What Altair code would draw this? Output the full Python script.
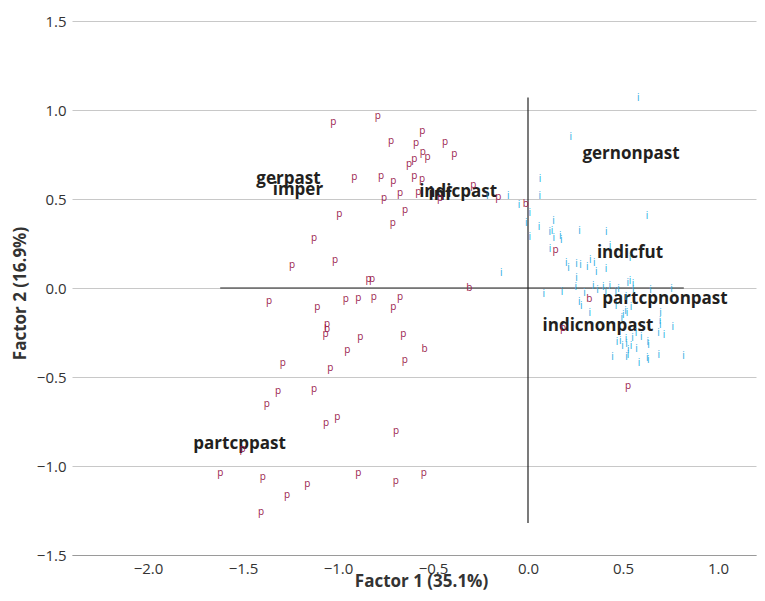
import altair as alt
import pandas as pd

# ---- data (Factor 1, Factor 2 coordinates) ----
p_x = [-1.025, -0.791, -0.556, -0.721, -0.589, -0.437, -0.554, -0.528, -0.388, -0.598,
       -0.626, -0.914, -0.774, -0.709, -0.598, -0.558, -0.674, -0.758, -0.577, -0.463,
       -0.288, -0.156, -0.993, -0.647, -0.712, -1.126, -1.242, -1.016, -0.839, -0.821,
       -1.363, -1.109, -0.959, -0.893, -0.812, -0.674, -0.709, 0.145, -1.058, -1.065,
       -0.883, -0.656, -0.951, -1.291, -1.041, -0.649, -1.316, -1.126, -1.375, -1.063,
       -1.004, -0.695, -1.502, -1.619, -1.396, -1.162, -1.268, -1.405, -0.893, -0.696,
       -0.549, 0.526, 0.184]
p_y = [0.931, 0.968, 0.882, 0.828, 0.813, 0.822, 0.762, 0.734, 0.751, 0.723,
       0.695, 0.622, 0.631, 0.601, 0.631, 0.611, 0.535, 0.504, 0.541, 0.504,
       0.579, 0.513, 0.417, 0.438, 0.367, 0.283, 0.131, 0.157, 0.051, 0.051,
       -0.075, -0.107, -0.062, -0.054, -0.051, -0.051, -0.108, 0.213, -0.202, -0.260,
       -0.274, -0.260, -0.348, -0.420, -0.451, -0.404, -0.577, -0.567, -0.652, -0.757,
       -0.723, -0.803, -0.904, -1.041, -1.063, -1.101, -1.163, -1.260, -1.038, -1.084,
       -1.041, -0.551, -0.223]

i_x = [0.581, 0.225, 0.063, 0.062, -0.104, -0.214, -0.047, 0.009, 0.626, -0.009,
       0.058, 0.134, 0.126, 0.114, 0.271, 0.412, 0.009, 0.135, 0.170, 0.175,
       0.116, 0.432, 0.537, 0.202, 0.213, 0.255, 0.277, 0.312, 0.328, 0.349,
       0.359, 0.411, -0.141, 0.256, 0.251, 0.344, 0.366, 0.396, 0.430, 0.477,
       0.525, 0.537, 0.553, 0.645, 0.755, 0.083, 0.179, 0.297, 0.270, 0.280,
       0.325, 0.409, 0.462, 0.463, 0.516, 0.542, 0.513, 0.521, 0.493, 0.697,
       0.695, 0.696, 0.762, 0.687, 0.716, 0.568, 0.596, 0.550, 0.468, 0.486,
       0.498, 0.516, 0.519, 0.542, 0.571, 0.630, 0.634, 0.528, 0.445, 0.518,
       0.526, 0.584, 0.628, 0.633, 0.688, 0.819, 0.554, 0.502]
i_y = [1.066, 0.850, 0.611, 0.517, 0.517, 0.517, 0.466, 0.420, 0.404, 0.363,
       0.343, 0.374, 0.323, 0.317, 0.323, 0.313, 0.288, 0.279, 0.292, 0.267,
       0.217, 0.238, 0.166, 0.140, 0.111, 0.133, 0.129, 0.116, 0.157, 0.139,
       0.090, 0.108, 0.083, 0.054, 0.008, 0.014, -0.014, 0.004, 0.011, -0.007,
       0.028, 0.038, 0.020, -0.011, -0.004, -0.035, -0.020, -0.030, -0.077, -0.103,
       -0.139, -0.024, -0.024, -0.101, -0.049, -0.108, -0.129, -0.140, -0.169, -0.138,
       -0.188, -0.208, -0.219, -0.254, -0.266, -0.254, -0.275, -0.283, -0.302, -0.298,
       -0.326, -0.289, -0.312, -0.328, -0.340, -0.306, -0.323, -0.351, -0.385, -0.388,
       -0.376, -0.420, -0.395, -0.404, -0.375, -0.384, -0.011, -0.152]

b_x = [-0.309, -0.011, 0.323, -0.544, -1.058]
b_y = [0.002, 0.472, -0.062, -0.344, -0.232]

cat_names = ["gerpast", "imper", "indicpast", "inf", "gernonpast", "indicfut",
             "partcpnonpast", "indicnonpast", "partcppast"]
cat_x = [-1.261, -1.211, -0.368, -0.463, 0.542, 0.537, 0.721, 0.368, -1.518]
cat_y = [0.612, 0.551, 0.539, 0.522, 0.753, 0.197, -0.062, -0.213, -0.876]

# extents of the two reference axes drawn through the origin
hline_x = [-1.62, 0.82]
vline_y = [-1.32, 1.07]

x_ticks = [-2.0, -1.5, -1.0, -0.5, 0.0, 0.5, 1.0]
y_ticks = [-1.5, -1.0, -0.5, 0.0, 0.5, 1.0, 1.5]

# ---- build tables ----
pts = pd.DataFrame({
    "x": p_x + i_x + b_x,
    "y": p_y + i_y + b_y,
    "lab": ["p"] * len(p_x) + ["i"] * len(i_x) + ["b"] * len(b_x),
})
cats = pd.DataFrame({"x": cat_x, "y": cat_y, "name": cat_names})
hdf = pd.DataFrame({"x": [hline_x[0]], "x2": [hline_x[1]], "y": [0.0]})
vdf = pd.DataFrame({"x": [0.0], "y": [vline_y[0]], "y2": [vline_y[1]]})

FONT = "Open Sans"
MAROON = "#9b1d4e"
CYAN = "#29abe2"

xs = alt.Scale(domain=[-2.4, 1.2], nice=False, zero=False)
ys = alt.Scale(domain=[-1.5, 1.5], nice=False, zero=False)

x_axis = alt.Axis(values=x_ticks, format=".1f", grid=False, ticks=False,
                  domainColor="#9a9a9a", domainWidth=1.2, labelPadding=6,
                  labelFontSize=15, labelColor="#333333", labelFont=FONT,
                  title="Factor 1 (35.1%)", titleFont=FONT, titleFontSize=17,
                  titleFontWeight="bold", titleColor="#333333",
                  titleX=349, titleY=18, titleBaseline="top")
y_axis = alt.Axis(values=y_ticks, format=".1f", grid=True, gridColor="#c8c8c8",
                  domain=False, ticks=False, labelPadding=6,
                  labelFontSize=15, labelColor="#333333", labelFont=FONT,
                  title="Factor 2 (16.9%)", titleFont=FONT, titleFontSize=17,
                  titleFontWeight="bold", titleColor="#333333",
                  titleX=-52, titleY=272, titleBaseline="middle")

hrule = alt.Chart(hdf).mark_rule(color="#222222", strokeWidth=1.2).encode(
    x=alt.X("x:Q", scale=xs, axis=x_axis),
    x2="x2:Q",
    y=alt.Y("y:Q", scale=ys, axis=y_axis),
)
vrule = alt.Chart(vdf).mark_rule(color="#222222", strokeWidth=1.2).encode(
    x=alt.X("x:Q", scale=xs),
    y=alt.Y("y:Q", scale=ys),
    y2="y2:Q",
)
labels = alt.Chart(cats).mark_text(font=FONT, fontSize=17, fontWeight="bold",
                                   color="#231f20").encode(
    x=alt.X("x:Q", scale=xs),
    y=alt.Y("y:Q", scale=ys),
    text="name:N",
)
points = alt.Chart(pts).mark_text(font=FONT, fontSize=10).encode(
    x=alt.X("x:Q", scale=xs),
    y=alt.Y("y:Q", scale=ys),
    text="lab:N",
    color=alt.Color("lab:N", scale=alt.Scale(domain=["p", "i", "b"],
                                             range=[MAROON, CYAN, MAROON]),
                    legend=None),
)

chart = alt.layer(hrule, vrule, labels, points).properties(
    width=684, height=534,
    autosize=alt.AutoSizeParams(type="none"),
    padding={"left": 64, "top": 13, "right": 1, "bottom": 38},
).configure_view(stroke=None)

chart.save("out.html", embed_options={"renderer": "svg", "actions": False})
